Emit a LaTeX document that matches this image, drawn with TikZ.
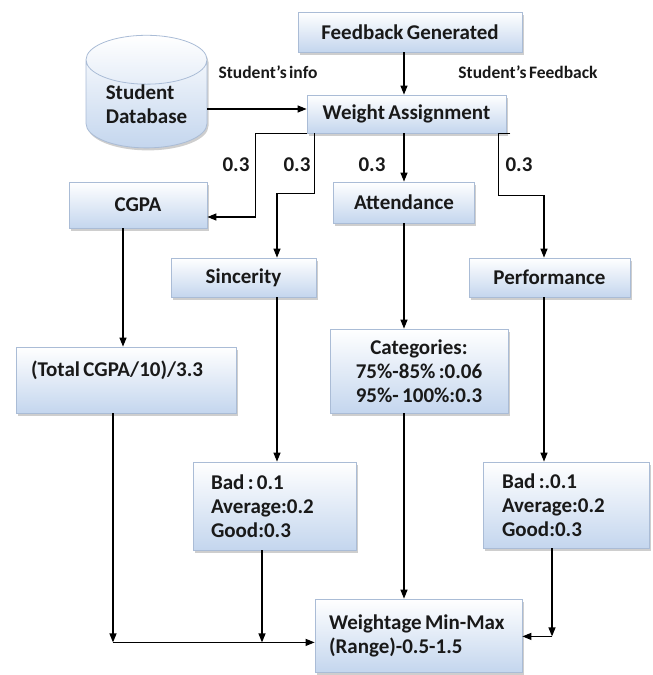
\documentclass[tikz,border=0pt]{standalone}
\usepackage{fontspec}
\setmainfont[WordSpace=0.6]{Carlito}
\usetikzlibrary{arrows.meta, shapes.geometric, shadows}

\definecolor{boxline}{RGB}{170,188,214}
\definecolor{boxblue}{RGB}{196,214,238}
\definecolor{ink}{RGB}{25,25,25}

\tikzset{
  box/.style={draw=boxline, line width=0.8pt, top color=white, bottom color=boxblue,
    drop shadow={shadow xshift=1.5pt, shadow yshift=-2.5pt, fill=gray!55, opacity=0.7},
    inner sep=0pt, font=\fontsize{21}{24}\selectfont\bfseries, text=ink,
    execute at begin node={\spaceskip=0.16em\xspaceskip=0.16em}},
  lbl/.style={font=\fontsize{21}{24}\selectfont\bfseries, text=ink},
  small/.style={font=\fontsize{17.5}{20}\selectfont\bfseries, text=ink},
  arr/.style={line width=1.2pt, -{Triangle[length=9pt, width=7pt]}},
}

\begin{document}
\begin{tikzpicture}[x=1pt, y=-1pt]
    \useasboundingbox (0,0) rectangle (653,675);

    % Top row: feedback source and database
    \node[box, minimum width=224pt, minimum height=40pt] (fg) at (410,32) {Feedback Generated};
    \node[box, shape=cylinder, shape border rotate=90, aspect=0.6,
          minimum width=121pt, minimum height=103pt, align=left] (db) at (146.5,104)
          {Student\\Database};
    \node[small] (info) at (268,72) {Student’s info};
    \node[small] (fbk) at (528,72) {Student’s Feedback};

    % Weight assignment
    \node[box, minimum width=199pt, minimum height=38pt] (wa) at (406.5,114) {Weight Assignment};
    \coordinate (spine) at (404,0);

    % Factors
    \node[box, minimum width=138pt, minimum height=46pt] (cgpa) at (138,205) {CGPA};
    \node[box, minimum width=141pt, minimum height=41pt] (att) at (404,202.5) {Attendance};
    \node[box, minimum width=145pt, minimum height=39pt] (sin) at (243.5,277.5) {Sincerity};
    \node[box, minimum width=161pt, minimum height=39pt] (perf) at (549.5,277.5) {Performance};

    % Weights on branches
    \node[lbl] (w1) at (236,165) {0.3};
    \node[lbl] (w2) at (297,165) {0.3};
    \node[lbl] (w3) at (372,165) {0.3};
    \node[lbl] (w4) at (519,165) {0.3};

    % Scoring rules
    \node[box, minimum height=66pt, text width=190pt, inner xsep=15pt, align=left] (tot) at (126,380)
          {\raisebox{10pt}[\height][\depth]{(Total CGPA/10)/3.3}};
    \node[box, minimum height=84pt, text width=168pt, inner xsep=5pt, align=center] (cat) at (419,371)
          {Categories:\\75\%-85\% :0.06\\95\%- 100\%:0.3};
    \node[box, minimum height=88pt, text width=127pt, inner xsep=18pt, align=left] (sbad) at (274.5,506)
          {Bad : 0.1\\Average:0.2\\Good:0.3};
    \node[box, minimum height=86pt, text width=128pt, inner xsep=19pt, align=left] (pbad) at (566,505)
          {Bad :.0.1\\Average:0.2\\Good:0.3};

    % Result
    \node[box, minimum height=73pt, text width=187pt, inner xsep=10pt, align=left] (wt) at (418.5,635.5)
          {\hspace*{4pt}Weightage Min-Max\\\hspace*{4pt}(Range)-0.5-1.5};

    % Connectors
    \draw[arr] (fg.south -| spine) -- (wa.north -| spine);
    \draw[arr] ([yshift=-5pt]db.east) -- ([yshift=-5pt]db.east -| wa.west);
    \draw[arr] (wa.south west) -- ++(-51,0) |- ([yshift=-12pt]cgpa.east);
    \draw[arr] ([xshift=8pt]wa.south west) -- ++(0,60) -| ([xshift=33.5pt]sin.north);
    \draw[arr] (wa.south -| spine) -- (att.north -| spine);
    \draw[arr] ([xshift=4pt]wa.south east) -- ++(-12,0) -- ++(0,62) -| ([xshift=-5.5pt]perf.north);

    \draw[arr] ([xshift=-15pt]cgpa.south) -- ([xshift=-3pt]tot.north);
    \draw[arr] ([xshift=33.5pt]sin.south) -- ([xshift=2.5pt]sbad.north);
    \draw[arr] (att.south -| spine) -- (cat.north -| spine);
    \draw[arr] ([xshift=-5.5pt]perf.south) -- ([xshift=-22pt]pbad.north);

    \draw[arr] ([xshift=-13pt]tot.south) -- ++(0,229) coordinate (j1);
    \draw[arr] (j1) -- (j1 -| wt.west);
    \draw[arr] ([xshift=-12.5pt]sbad.south) -- ++(0,92);
    \draw[arr] (cat.south -| spine) -- (wt.north -| spine);
    \draw[arr] ([xshift=-14pt]pbad.south) -- ++(0,88) coordinate (j2);
    \draw[arr] (j2) -- (j2 -| wt.east);
\end{tikzpicture}
\end{document}
